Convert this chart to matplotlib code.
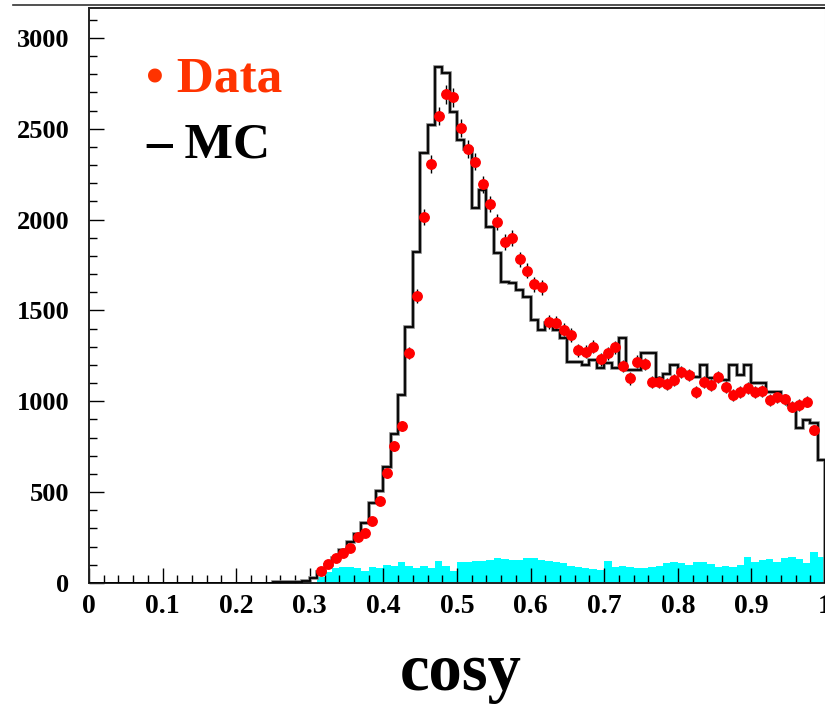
import numpy as np
import matplotlib
matplotlib.use("Agg")
import matplotlib.pyplot as plt
from matplotlib.lines import Line2D
from matplotlib.ticker import MultipleLocator

plt.rcParams['font.family'] = ['Liberation Serif', 'DejaVu Serif']
plt.rcParams['font.weight'] = 'bold'

# 100 bins of width 0.01 on [0, 1]
edges = np.linspace(0, 1, 101)

# MC histogram, bins starting at 0.25 (lower bins are empty)
MC_START = 25
mc = [4, 6, 5, 8, 10, 25, 60, 100, 140, 180,
      227, 270, 328, 439, 506, 640, 818, 1035, 1411, 1823,
      2368, 2521, 2842, 2805, 2594, 2440, 2387, 2062, 2163, 1961,
      1815, 1658, 1650, 1613, 1576, 1447, 1392, 1429, 1390, 1346,
      1218, 1218, 1200, 1227, 1181, 1209, 1181, 1346, 1172, 1172,
      1264, 1264, 1130, 1150, 1200, 1160, 1150, 1135, 1200, 1130,
      1120, 1120, 1200, 1145, 1200, 1099, 1099, 1053, 1053, 1010,
      980, 851, 897, 882, 677]

# background (cyan), bins starting at 0.31
BKG_START = 31
bkg = [35, 62, 81, 90, 90, 84, 66, 90, 84, 99,
       95, 114, 95, 84, 95, 84, 121, 95, 66, 114,
       114, 121, 121, 127, 136, 131, 127, 127, 140, 140,
       127, 121, 117, 108, 95, 90, 81, 77, 70, 121,
       90, 95, 90, 81, 84, 90, 95, 108, 117, 108,
       99, 117, 117, 103, 90, 95, 90, 99, 145, 117,
       127, 131, 114, 136, 145, 131, 108, 169, 145]

# data points, bins starting at 0.31 (centres 0.315 ... 0.985)
DATA_START = 31
data = [68, 103, 136, 163, 191, 252, 277, 341, 453, 604,
        756, 864, 1266, 1580, 2016, 2306, 2572, 2691, 2673, 2506,
        2387, 2319, 2196, 2086, 1989, 1878, 1897, 1781, 1719, 1644,
        1627, 1438, 1433, 1395, 1365, 1282, 1273, 1301, 1231, 1264,
        1297, 1194, 1126, 1218, 1205, 1108, 1108, 1095, 1117, 1163,
        1145, 1053, 1108, 1090, 1132, 1081, 1035, 1053, 1071, 1053,
        1058, 1007, 1025, 1011, 970, 980, 998, 842]

centres = 0.5 * (edges[:-1] + edges[1:])

fig = plt.figure(figsize=(8.25, 7.08), dpi=100)
ax = fig.add_axes([89 / 825, 125 / 708, 736 / 825, 575 / 708])

bkg_edges = edges[BKG_START:BKG_START + len(bkg) + 1]
ax.stairs(bkg, bkg_edges, fill=True, color='#00ffff', lw=0, zorder=1)

mc_edges = edges[MC_START:MC_START + len(mc) + 1]
ax.stairs(mc, mc_edges, color='#808080', lw=2.6, zorder=2)
ax.stairs(mc, mc_edges, color='black', lw=1.3, zorder=3)
ax.plot([0, edges[MC_START]], [0, 0], color='black', lw=1.3, zorder=3)

dx = centres[DATA_START:DATA_START + len(data)]
dy = np.array(data, dtype=float)
ax.errorbar(dx, dy, yerr=np.sqrt(dy), fmt='o', color='red', ms=6.8,
            mec='red', ecolor='black', elinewidth=1.0, capsize=0, zorder=4)

ax.set_xlim(0, 1)
ax.set_ylim(0, 3165)

ax.xaxis.set_major_locator(MultipleLocator(0.1))
ax.xaxis.set_minor_locator(MultipleLocator(0.02))
ax.yaxis.set_major_locator(MultipleLocator(500))
ax.yaxis.set_minor_locator(MultipleLocator(100))
ax.set_xticks(np.arange(0, 1.01, 0.1))
ax.set_xticklabels(['0', '0.1', '0.2', '0.3', '0.4', '0.5', '0.6', '0.7', '0.8', '0.9', '1'])
ax.tick_params(axis='both', which='both', direction='in', colors='black')
ax.tick_params(axis='both', which='major', length=11, width=1.0)
ax.tick_params(axis='both', which='minor', length=5.5, width=1.0)
ax.tick_params(axis='x', which='major', labelsize=20, pad=8)
ax.tick_params(axis='y', which='major', labelsize=19, pad=14)
for lbl in ax.get_xticklabels() + ax.get_yticklabels():
    lbl.set_fontweight('bold')

for side in ['left', 'bottom', 'top']:
    ax.spines[side].set_linewidth(1.4)
    ax.spines[side].set_color('#222222')
ax.spines['right'].set_color('#dddddd')

# frame line above the plot
fig.add_artist(Line2D([13 / 825, 1], [1 - 5 / 708, 1 - 5 / 708], color='#333333', lw=1.2))

fig.text(146 / 825, 1 - 92 / 708, '\u2022 Data', color='#ff3300', fontsize=37,
         fontweight='bold', va='baseline', ha='left')
fig.text(146 / 825, 1 - 157 / 708, '\u2013 MC', color='black', fontsize=37,
         fontweight='bold', va='baseline', ha='left')

fig.text(461 / 825, 18 / 708, 'cosy', fontsize=48, fontweight='bold',
         ha='center', va='baseline')

fig.savefig('out.png', dpi=100)
